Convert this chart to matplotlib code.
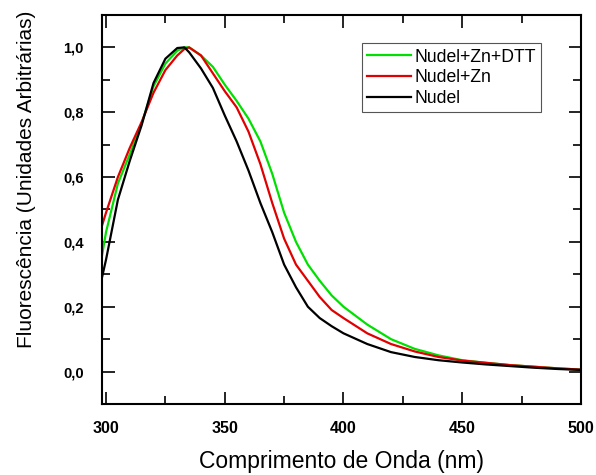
import matplotlib
matplotlib.use("Agg")
import matplotlib.pyplot as plt
from matplotlib.ticker import MultipleLocator, FuncFormatter

# wavelength grid (nm)
wl = [298.3, 300, 305, 310, 315, 320, 325, 330, 333, 335, 340, 345, 350, 355,
      360, 365, 370, 375, 380, 385, 390, 395, 400, 410, 420, 430, 440, 450,
      460, 470, 480, 490, 500]

nudel = [0.29, 0.345, 0.53, 0.65, 0.76, 0.89, 0.965, 0.998, 1.0, 0.985, 0.935,
         0.875, 0.79, 0.71, 0.62, 0.52, 0.43, 0.33, 0.26, 0.2, 0.165, 0.14,
         0.118, 0.085, 0.06, 0.045, 0.035, 0.028, 0.022, 0.017, 0.012, 0.008,
         0.005]

nudel_zn = [0.45, 0.49, 0.6, 0.69, 0.77, 0.86, 0.93, 0.975, 0.995, 1.0, 0.975,
            0.92, 0.865, 0.815, 0.74, 0.64, 0.52, 0.41, 0.33, 0.28, 0.23, 0.19,
            0.165, 0.118, 0.085, 0.062, 0.045, 0.034, 0.027, 0.02, 0.015, 0.01,
            0.006]

nudel_zn_dtt = [0.357, 0.43, 0.58, 0.67, 0.765, 0.88, 0.95, 0.99, 1.0, 1.0,
                0.975, 0.94, 0.885, 0.835, 0.78, 0.71, 0.61, 0.49, 0.4, 0.33,
                0.28, 0.235, 0.2, 0.145, 0.1, 0.07, 0.05, 0.035, 0.027, 0.02,
                0.015, 0.01, 0.006]

plt.rcParams["font.family"] = ["Liberation Sans", "DejaVu Sans"]

fig = plt.figure(figsize=(5.96, 4.75), dpi=100)
ax = fig.add_axes([0.1711, 0.1495, 0.8037, 0.819])

ax.plot(wl, nudel_zn_dtt, color="#00e000", lw=1.6, label="Nudel+Zn+DTT")
ax.plot(wl, nudel_zn, color="#e00000", lw=1.6, label="Nudel+Zn")
ax.plot(wl, nudel, color="black", lw=1.6, label="Nudel")

ax.set_xlim(298.3, 500)
ax.set_ylim(-0.1, 1.1)

ax.xaxis.set_major_locator(MultipleLocator(50))
ax.xaxis.set_minor_locator(MultipleLocator(25))
ax.yaxis.set_major_locator(MultipleLocator(0.2))
ax.yaxis.set_minor_locator(MultipleLocator(0.1))
ax.yaxis.set_major_formatter(FuncFormatter(lambda v, p: f"{v:.1f}".replace(".", ",")))

ax.tick_params(which="both", direction="in", top=True, right=True, width=1.2)
ax.tick_params(which="major", length=9)
ax.tick_params(which="minor", length=5.5)
ax.tick_params(axis="x", pad=12, labelsize=11.5)
ax.tick_params(axis="y", pad=13, labelsize=10.5)
for lab in ax.get_xticklabels() + ax.get_yticklabels():
    lab.set_fontweight("bold")
for s in ax.spines.values():
    s.set_linewidth(1.5)

ax.set_xlabel("Comprimento de Onda (nm)", fontsize=16.5, va="center")
ax.xaxis.set_label_coords(0.5, -0.148)
ax.set_ylabel("Fluorescência (Unidades Arbitrárias)", fontsize=15, va="center")
ax.yaxis.set_label_coords(-0.157, 0.578)

leg = ax.legend(loc="upper left", bbox_to_anchor=(0.542, 0.927), borderaxespad=0,
                fontsize=12.7, handlelength=2.5, handletextpad=0.2,
                labelspacing=0.2, borderpad=0.3, fancybox=False, framealpha=1)
leg.get_frame().set_edgecolor("#555555")
leg.get_frame().set_linewidth(0.8)

fig.savefig("out.png", dpi=100)
